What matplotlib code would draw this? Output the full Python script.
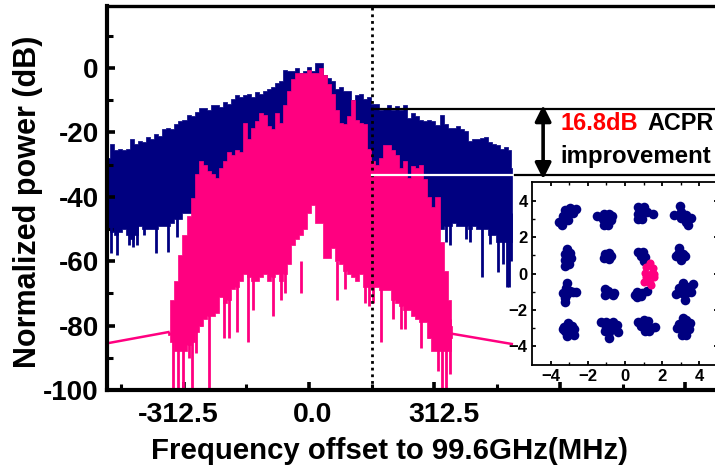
import matplotlib
matplotlib.use('Agg')
import matplotlib.pyplot as plt
from matplotlib.transforms import ScaledTranslation

plt.rcParams['font.family'] = ['Liberation Sans', 'DejaVu Sans']
plt.rcParams['font.weight'] = 'bold'

NAVY = '#000080'
PINK = '#ff0080'

# blue trace, no predistortion
navy_freq = [-500, -490, -480, -470, -460, -450, -440, -430, -420, -410, -400, -390, -380, -370, -360, -350, -340,
             -330, -320, -310, -300, -290, -280, -270, -260, -250, -240, -230, -220, -210, -200, -190, -180, -170,
             -160, -150, -140, -130, -120, -110, -100, -90, -80, -70, -60, -50, -40, -30, -20, -10, 0, 10, 20, 30,
             40, 50, 60, 70, 80, 90, 100, 110, 120, 130, 140, 150, 160, 170, 180, 190, 200, 210, 220, 230, 240, 250,
             260, 270, 280, 290, 300, 310, 320, 330, 340, 350, 360, 370, 380, 390, 400, 410, 420, 430, 440, 450, 460,
             470, 480, 490, 500, 505]
navy_top = [-28, -23.5, -25.5, -25, -25.5, -25, -22, -23.5, -22.5, -23, -21.5, -22, -20.5, -21, -19, -18.5, -19,
            -17.5, -16.5, -16, -14.5, -15, -13.5, -12.5, -12.5, -13, -11.5, -11.5, -12, -10.5, -11, -9.5, -8.5, -9,
            -8.5, -8, -9, -7.5, -8, -7, -6.5, -6, -4.5, -4, -0.5, -1, -1, 0, -1.5, -1, 0.5, -1, 1.5, 1.5,
            -2, -3, -4, -6.5, -6, -7, -7, -10, -8.5, -8, -9.5, -9, -11, -11, -13, -12.5, -11.5, -13, -11.8, -13, -11.5, -15.5,
            -14, -15, -16, -16.5, -16, -16.5, -17.7, -14.6, -17.5, -18.6, -18.5, -18, -19, -19.5, -22.5, -22, -22, -21.8, -21.4, -23, -23.5,
            -24, -25, -24.5, -25.5, -31]
navy_low = [-50, -51, -52, -51, -50, -52, -53, -52, -49, -50, -50, -50, -50, -49, -49, -49, -48,
            -47, -47, -45, -45, -45, -42, -42, -42, -42, -42, -42, -42, -42, -42, -42, -42, -42,
            -42, -42, -42, -42, -42, -42, -42, -42, -42, -42, -42, -42, -42, -42, -42, -42, -42, -42, -42, -42,
            -42, -42, -42, -42, -42, -42, -42, -42, -42, -42, -42, -42, -42, -42, -42, -42, -42, -42, -42, -42, -42, -42,
            -42, -42, -42, -42, -45, -45, -48, -50, -49, -49, -48, -49, -49, -49, -50, -49, -50, -50, -50, -52, -52,
            -54, -54, -54, -54, -54]
navy_spike_freq = [-492, -478, -448, -438, -428, -410, -380, -350, -328, 340, 352, 392, 402, 431, 451, 471, 484, 492, 498, 504]
navy_spike_db = [-57.5, -58, -55, -55.5, -55, -52, -57.5, -57, -52.5, -54, -55, -53, -54, -65, -54.5, -63.4, -61, -68, -68, -60]

# pink trace, with predistortion
pink_freq = [-350, -340, -330, -320, -310, -300, -290, -280, -270, -260, -250, -240, -230, -220, -210, -200, -190, -180,
             -170, -160, -150, -140, -130, -120, -110, -100, -90, -80, -70, -60, -50, -40, -30, -20, -10, 0, 10, 20, 30,
             40, 50, 60, 70, 80, 90, 100, 110, 120, 130, 140, 150, 160, 170, 180, 190, 200, 210, 220, 230, 240, 250, 260,
             270, 280, 290, 300, 310, 320, 330, 340, 350, 355]
pink_top = [-82, -72, -66, -58, -52, -46, -40.5, -33, -29, -30, -32, -33, -34, -31, -29, -26, -27, -25.5,
            -26, -17, -22, -18.5, -16.5, -14, -14.5, -18, -19, -14, -17, -11.5, -7, -3.5, -1.5, -1.5, -1.5, -0.5, -1.5, -1.5, 0,
            -2, -5, -8, -13, -17, -17.5, -15, -10, -16, -17, -17.5, -25, -29, -30, -28, -24, -24, -25.5, -27, -31, -29, -34, -30.5,
            -31, -30, -34.5, -40, -43, -40, -54, -63, -72, -80]
pink_low = [-83, -85, -88, -88, -88, -86, -85, -82, -80, -78, -77, -77, -76, -71, -73, -72, -68.6, -68,
            -66, -64, -65, -66, -66, -65, -64, -66, -65, -64, -66, -64, -61, -55, -53, -52, -50, -45, -42.5, -48, -48,
            -59, -59, -56, -60, -61, -63, -64, -65, -66, -64, -68, -68, -68, -68, -69, -69, -69, -72, -73, -74, -75, -75, -77,
            -78, -79, -79, -84, -88, -88, -88, -88, -88, -84]
pink_spike_freq = [-339, -326, -314, -300, -291, -281, -270, -250, -212, -200, -180, -151, -140, -90, -70, -60, -20,
                   70, 90, 140, 150, 160, 180, 210, 230, 240, 280, 300, 320, 330, 341, 350]
pink_spike_db = [-100, -100, -100, -90, -100, -88.6, -80, -100, -84, -84, -82, -85, -75, -77, -72, -70, -70,
                 -72, -68.6, -73, -74, -73, -85, -78, -81, -81, -87, -84, -94, -100, -100, -95]
pink_spike_base = [-78, -78, -78, -78, -60, -60, -60, -60, -60, -60, -60, -60, -60, -60, -60, -60, -60,
                   -60, -60, -60, -60, -60, -60, -60, -60, -60, -60, -78, -78, -78, -78, -78]
tail_left_freq = [-503, -350]
tail_left_db = [-85.5, -82]
tail_right_freq = [355, 505]
tail_right_db = [-82.5, -85.7]

# constellation, one line per symbol cluster
blue_x = [-3.55, -3.4, -3.2, -3.35, -3.05, -3.2, -2.95, -2.8, -2.65, -3.05,
          -1.15, -0.85, -1.2, -0.9, -0.7, -1.15, -0.9, -0.75, -1.5,
          0.7, 1.0, 0.7, 0.95, 1.2, 0.7, 0.9, 1.5,
          2.95, 3.0, 2.65, 3.3, 3.0, 3.3, 3.55, 3.4,
          -3.1, -3.2, -2.95, -3.05, -3.2, -3.0, -3.2, -2.9,
          -1.1, -0.85, -1.15, -0.85, -0.75,
          0.7, 0.95, 0.85, 1.1, 1.0,
          2.9, 2.85, 3.1, 3.25, 2.75, 3.0,
          -3.1, -3.15, -2.95, -3.35, -3.1, -2.8, -2.65, -3.2, -3.2,
          -1.1, -1.1, -0.85, -0.6, -0.9, -0.65,
          0.65, 0.65, 0.9, 1.2, 0.85, 0.55,
          3.1, 3.35, 3.65, 2.9, 3.05, 2.75, 3.3, 3.55, 3.25, 3.5,
          -3.3, -3.05, -2.85, -3.2, -2.9, -3.35, -3.1, -2.75, -2.75, -3.05,
          -1.3, -1.0, -0.65, -1.0, -0.7, -0.45, -1.1, -0.85, -0.85, -0.4,
          1.0, 1.25, 0.7, 0.85, 1.1, 1.05, 1.4, 1.6, 1.3,
          3.1, 3.3, 2.9, 3.15, 3.5, 2.8, 3.1, 3.45, 3.05, 3.3]
blue_y = [2.85, 2.7, 3.0, 3.15, 3.3, 3.5, 3.6, 3.35, 3.55, 2.95,
          3.3, 3.3, 3.0, 3.0, 3.2, 2.7, 2.65, 2.95, 3.2,
          3.65, 3.65, 3.3, 3.35, 3.4, 3.0, 3.0, 3.3,
          3.7, 3.4, 3.25, 3.25, 3.05, 2.85, 3.05, 2.7,
          1.35, 1.1, 1.15, 0.85, 0.75, 0.55, 0.4, 0.85,
          1.1, 1.15, 0.85, 0.8, 0.95,
          1.2, 1.2, 0.95, 0.9, 0.7,
          1.4, 1.1, 1.1, 0.95, 0.95, 0.75,
          -0.5, -0.8, -0.95, -1.05, -1.15, -1.0, -1.0, -1.35, -1.55,
          -0.85, -1.2, -1.1, -1.1, -0.95, -1.2,
          -1.0, -1.3, -1.05, -0.95, -1.25, -1.2,
          -0.5, -0.75, -0.6, -0.8, -1.05, -1.15, -1.1, -1.0, -1.45, -0.8,
          -2.95, -2.75, -2.9, -3.2, -3.2, -3.05, -3.45, -3.4, -3.05, -3.1,
          -2.65, -2.65, -2.7, -2.95, -3.0, -2.85, -3.2, -3.25, -3.55, -3.25,
          -2.55, -2.6, -2.7, -2.9, -2.85, -3.2, -3.0, -2.95, -3.2,
          -2.45, -2.55, -2.8, -2.8, -2.75, -3.0, -3.1, -3.05, -3.4, -3.4]
pink_x = [1.35, 1.15, 1.5, 1.1, 1.45, 1.15, 1.55, 1.0, 1.35, 1.4, 1.2, 1.55]
pink_y = [0.6, 0.35, 0.3, 0.05, 0.05, -0.2, -0.2, -0.45, -0.5, -0.65, -0.25, 0.0]

x_major = [-312.5, 0, 312.5, 625, 937.5]
x_minor = [-468.75, -156.25, 156.25, 468.75, 781.25]
x_labels = ['-312.5', '0.0', '312.5', '', '']
y_major = [-100, -80, -60, -40, -20, 0]
y_minor = [-90, -70, -50, -30, -10, 10]
y_labels = ['-100', '-80', '-60', '-40', '-20', '0']
iq_ticks = [-4, -2, 0, 2, 4]
iq_minor = [-3, -1, 1, 3]

fig = plt.figure(figsize=(7.15, 4.71), dpi=100)
ax = fig.add_axes([107 / 715, 81 / 471, 608 / 715, 384 / 471])
ax.fill_between(navy_freq, navy_low, navy_top, step='mid', color=NAVY, lw=0.5)
ax.vlines(navy_spike_freq, -45, navy_spike_db, color=NAVY, lw=2)
ax.fill_between(pink_freq, pink_low, pink_top, step='mid', color=PINK, lw=0.5)
ax.vlines(pink_spike_freq, pink_spike_base, pink_spike_db, color=PINK, lw=2)
ax.plot(tail_left_freq, tail_left_db, color=PINK, lw=1.8)
ax.plot(tail_right_freq, tail_right_db, color=PINK, lw=1.8)

ax.axvline(156.25, color='k', ls=(0, (1, 1.4)), lw=2)
ax.plot([156.25, 1011], [-12.7, -12.7], color='k', lw=1.6)
ax.plot([512, 1011], [-33.2, -33.2], color='k', lw=1.6)
ax.plot([156.25, 505], [-33.2, -33.2], color='w', lw=1.6)
ax.annotate('', xy=(583, -11.5), xytext=(583, -34.5),
            arrowprops=dict(arrowstyle='<|-|>', color='k', lw=2.6, mutation_scale=24, shrinkA=0, shrinkB=0))

ax.set_xlim(-503, 1011)
ax.set_ylim(-100, 19.3)
ax.set_xticks(x_major)
ax.set_xticklabels(x_labels)
ax.set_xticks(x_minor, minor=True)
ax.set_yticks(y_major)
ax.set_yticklabels(y_labels)
ax.set_yticks(y_minor, minor=True)
ax.tick_params(which='major', direction='in', length=6, width=2.6, labelsize=20, pad=6)
ax.tick_params(which='minor', direction='in', length=4.5, width=2.2)
ax.tick_params(axis='x', which='major', pad=9, labelsize=20.5)
# the x labels sit a little off their ticks in the original
for lab, dx in zip(ax.get_xticklabels(), [-5, 4, 9, 0, 0]):
    lab.set_transform(lab.get_transform() + ScaledTranslation(dx / 100, 0, fig.dpi_scale_trans))
ax.spines['right'].set_visible(False)
ax.spines['left'].set_linewidth(3)
ax.spines['bottom'].set_linewidth(3)
ax.spines['top'].set_linewidth(2.4)
ax.set_xlabel('Frequency offset to 99.6GHz(MHz)', fontsize=21.2, fontweight='bold')
ax.xaxis.set_label_coords(0.465, -0.122)
ax.set_ylabel('Normalized power (dB)', fontsize=22, fontweight='bold')
ax.yaxis.set_label_coords(-0.105, 0.49)

fig.text(560 / 715, 1 - 124 / 471, '16.8dB', color='#ff0000', fontsize=17, va='center', ha='left')
fig.text(647 / 715, 1 - 124 / 471, 'ACPR', color='k', fontsize=16.8, va='center', ha='left')
fig.text(560 / 715, 1 - 157 / 471, 'improvement', color='k', fontsize=17.3, va='center', ha='left')

inset = fig.add_axes([532 / 715, 106 / 471, 186 / 715, 183 / 471])
inset.scatter(blue_x, blue_y, s=48, color=NAVY, lw=0)
inset.scatter(pink_x, pink_y, s=34, color=PINK, lw=0)
inset.set_xlim(-5, 5)
inset.set_ylim(-5.05, 5.05)
inset.set_xticks(iq_ticks)
inset.set_yticks(iq_ticks)
inset.set_xticks(iq_minor, minor=True)
inset.set_yticks(iq_minor, minor=True)
inset.tick_params(which='major', direction='in', length=3, width=1.3, labelsize=12, top=True, right=True, pad=3)
inset.tick_params(which='minor', direction='in', length=2, width=1, top=True, right=True)
for side in inset.spines.values():
    side.set_linewidth(1.3)

fig.savefig('out.png', dpi=100)
